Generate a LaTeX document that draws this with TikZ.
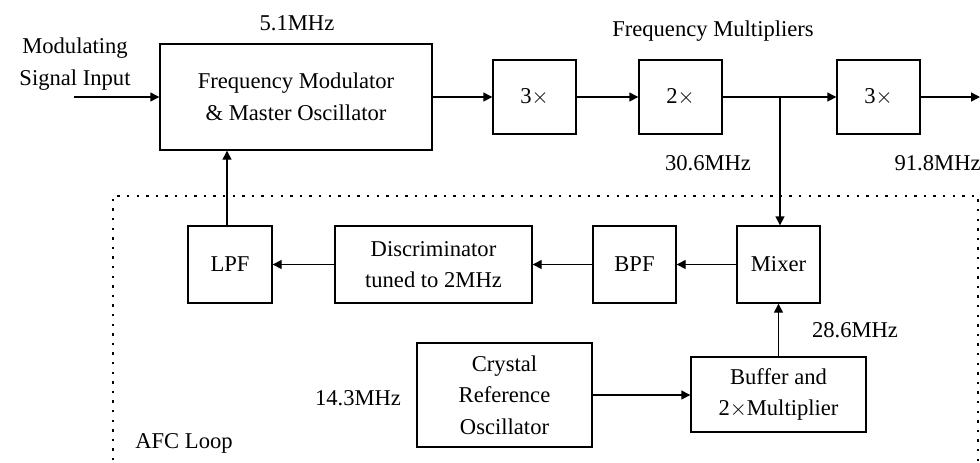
\documentclass[tikz,border=0pt]{standalone}
\usepackage{fontspec}
\setmainfont{Liberation Serif}
\usetikzlibrary{arrows.meta}

\begin{document}
\begin{tikzpicture}[
  x=0.5pt, y=-0.5pt,
  font=\fontsize{11.3}{15.8}\selectfont,
  block/.style={draw, line width=0.7pt, align=center, inner sep=1pt},
  label/.style={align=center, inner sep=0pt},
  link/.style={-{Triangle[length=4.5pt,width=4.5pt]}, line width=0.7pt},
  wire/.style={line width=0.7pt},
  afc/.style={line width=0.8pt, dash pattern=on 1.2pt off 3.6pt}
]
\useasboundingbox (0,0) rectangle (980,462);

% AFC loop frame
\draw[afc] (113,470) -- (113,196) -- (978,196) -- (978,470);

% main chain
\node[block, minimum width=136pt, minimum height=53pt] (fm) at (296,97)
  {Frequency Modulator\\\& Master Oscillator};
\node[block, minimum width=41.5pt, minimum height=37pt] (mulA) at (534.5,97) {3$\times$};
\node[block, minimum width=41.5pt, minimum height=37pt] (mulB) at (680.5,97) {2$\times$};
\node[block, minimum width=41.5pt, minimum height=37pt] (mulC) at (878.5,97) {3$\times$};

% loop
\node[block, minimum width=42pt, minimum height=38.5pt] (lpf) at (230,264.5) {LPF};
\node[block, minimum width=98.5pt, minimum height=38.5pt] (disc) at (433.5,264.5)
  {Discriminator\\tuned to 2MHz};
\node[block, minimum width=41.5pt, minimum height=38.5pt] (bpf) at (634.5,264.5) {BPF};
\node[block, minimum width=41.5pt, minimum height=38.5pt] (mixer) at (778.5,264.5) {Mixer};
\node[block, minimum width=87.5pt, minimum height=37.5pt] (buffer) at (778.5,394.5)
  {Buffer and\\2$\times$Multiplier};
\node[block, minimum width=87.5pt, minimum height=52pt] (crystal) at (504.5,395)
  {Crystal\\Reference\\Oscillator};

% labels
\node[label] (inLabel) at (75,64) {Modulating\\Signal Input};
\node[label] (fmFreq) at (297,23) {5.1MHz};
\node[label] (mulLabel) at (713,31) {Frequency Multipliers};
\node[label] (freqB) at (708,163) {30.6MHz};
\node[label, anchor=east] (freqC) at (981,163) {91.8MHz};
\node[label] (freqBuf) at (855,330) {28.6MHz};
\node[label] (freqXtal) at (358,398) {14.3MHz};
\node[label] (afcLabel) at (184,443) {AFC Loop};

\coordinate (in) at (74,97);
\coordinate (tap) at (780,97);
\coordinate (out) at (980,97);

\draw[link] (in) -- (fm.west);
\draw[link] (fm.east) -- (mulA.west);
\draw[link] (mulA.east) -- (mulB.west);
\draw[wire] (mulB.east) -- (tap);
\draw[link] (tap) -- (mulC.west);
\draw[link] (mulC.east) -- (out);
\draw[link] (tap) -- (tap |- mixer.north);
\draw[link] (mixer.west) -- (bpf.east);
\draw[link] (bpf.west) -- (disc.east);
\draw[link] (disc.west) -- (lpf.east);
\draw[link] ([xshift=-1.5pt]lpf.north) -- ([xshift=-1.5pt]lpf.north |- fm.south);
\draw[link] (crystal.east) -- (crystal.east -| buffer.west);
\draw[link] (buffer.north) -- (mixer.south);
\end{tikzpicture}
\end{document}
